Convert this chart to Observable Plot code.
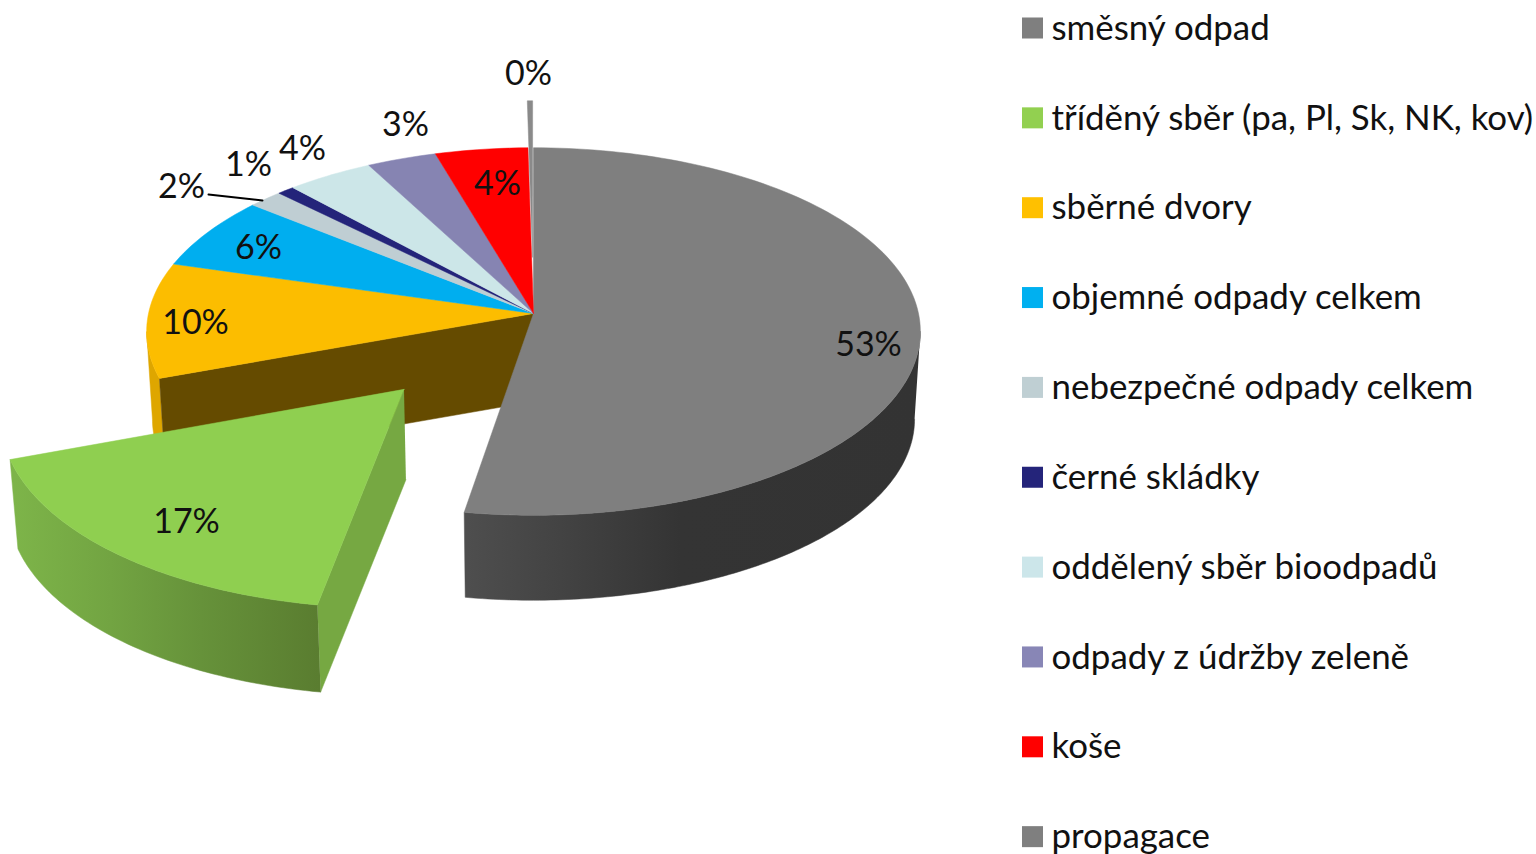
<!DOCTYPE html>
<html><head><meta charset="utf-8">
<style>html,body{margin:0;padding:0;background:#fff}</style>
<script src="https://cdn.jsdelivr.net/npm/d3@7"></script>
<script src="https://cdn.jsdelivr.net/npm/@observablehq/plot@0.6"></script>
</head><body><div id="chart"></div>
<script>
const categories = ["směsný odpad","tříděný sběr (pa, Pl, Sk, NK, kov)","sběrné dvory","objemné odpady celkem","nebezpečné odpady celkem","černé skládky","oddělený sběr bioodpadů","odpady z údržby zeleně","koše","propagace"];
const shares = [52.6,16.8,10.1,6.4,1.6,0.8,4,3.2,4.25,0.25];
const colors = ["#7f7f7f","#8fcf50","#fcbd00","#00aeef","#bfced3","#24247a","#cce6e8","#8684b2","#ff0000","#7f7f7f"];
const legendSwatch = ["#7f7f7f","#92d050","#ffc000","#00b0f0","#bfcfd3","#24247a","#cce6ea","#8886b6","#ff0000","#7f7f7f"];
const explode = [0,0.5,0,0,0,0,0,0,0,0.32];
const labelX = [868,186,195,258,181,248,302,405,497,528];
const labelY = [345,522,323,248,187,165,149,125,184,74];

// Perspective view of the pie
const cx=533, cy=313, R=385, S=182, k=0.098, shrink=0.985, D=88, exDx=-2, exDy=3, greenExtraDepth=3.5;
const proj=(u,v)=>({x:cx+R*u/(1+k*v), y:cy-S*v/(1+k*v)});
const under=(p,extra=0)=>({x:cx+(p.x-cx)*shrink, y:cy+(p.y-cy)*shrink+D+extra});
let acc=0;
const slices=shares.map((s,i)=>{const a0=acc/100*2*Math.PI; acc+=s; const a1=acc/100*2*Math.PI;
  const m=(a0+a1)/2, e=explode[i];
  return {i,a0,a1,ou:e*Math.sin(m),ov:e*Math.cos(m),dx:e===0.5?exDx:0,dy:e===0.5?exDy:0};});
const pt=(sl,a)=>{const p=proj(sl.ou+Math.sin(a),sl.ov+Math.cos(a));return {x:p.x+sl.dx,y:p.y+sl.dy}};
const apex=sl=>{const p=proj(sl.ou,sl.ov);return {x:p.x+sl.dx,y:p.y+sl.dy}};
const arc=(sl,a0,a1,n)=>d3.range(n+1).map(j=>pt(sl,a0+(a1-a0)*j/n));

const shape=(id,pts)=>pts.map(p=>({id,x:p.x,y:p.y}));
const wall=(sl,a0,a1,n,extra=0)=>{const t=arc(sl,a0,a1,n);return [...t,...t.slice().reverse().map(p=>under(p,extra))]};

// angles at which the rim of the pie turns back (its right and left silhouette)
const rimRight=Math.acos(-k), rimLeft=2*Math.PI-rimRight;

const yellow=slices[2], grey=slices[0], green=slices[1], sliver=slices[9];
const yellowWall=shape("yw",wall(yellow,yellow.a0,rimLeft,24));
const brownWall=shape("brown",[apex(yellow),pt(yellow,yellow.a0),under(pt(yellow,yellow.a0)),under(apex(yellow))]);
const greyWall=shape("gw",wall(grey,rimRight,grey.a1,120));
const tops=slices.filter(sl=>sl.i!==1&&sl.i!==9).flatMap(sl=>
  [apex(sl),...arc(sl,sl.a0,sl.a1,Math.max(4,Math.ceil((sl.a1-sl.a0)*40))),apex(sl)].map(p=>({id:"top"+sl.i,x:p.x,y:p.y,color:colors[sl.i]})));
const greenRadial=shape("gr",[apex(green),pt(green,green.a0),under(pt(green,green.a0),greenExtraDepth),under(apex(green),greenExtraDepth)]);
const greenOuter=shape("go",wall(green,green.a0,green.a1,60,greenExtraDepth));
const greenTop=shape("gt",[apex(green),...arc(green,green.a0,green.a1,60),apex(green)]);
const sliverTop=shape("sl",[apex(sliver),...arc(sliver,sliver.a0,sliver.a1,3),apex(sliver)]);

// horizontal shading of the curved walls
const gradient=(id,x1,x2,stops)=>{
  const g=d3.create("svg:linearGradient").attr("id",id).attr("gradientUnits","userSpaceOnUse")
    .attr("x1",x1).attr("x2",x2).attr("y1",0).attr("y2",0);
  stops.forEach(([x,c])=>g.append("stop").attr("offset",(x-x1)/(x2-x1)).attr("stop-color",c));
  return g.node();
};
const defs=()=>{const d=d3.create("svg:defs").node();
  d.appendChild(gradient("greyShade",466,921,[[466,"#4e4e4e"],[560,"#434343"],[680,"#343434"],[921,"#333333"]]));
  d.appendChild(gradient("greenShade",15,320,[[15,"#7db449"],[110,"#72a442"],[200,"#66923a"],[318,"#5a7d30"]]));
  return d;};

const labels=shares.map((s,i)=>({t:d3.format(".0f")(s)+"%",x:labelX[i],y:labelY[i]}));
const legendRow=i=>28+i*89.85;
const legend=categories.map((c,i)=>({c,i,y:legendRow(i),color:legendSwatch[i]}));
const leader=[{x:208,y:194},{x:262,y:200}];

const font="Lato, Carlito, sans-serif";
const poly=(data,fill)=>Plot.line(data,{x:"x",y:"y",z:"id",fill,stroke:fill,strokeWidth:0.5});
const chart=Plot.plot({
  width:1536,height:854,margin:0,
  x:{domain:[0,1536],range:[0,1536],axis:null},
  y:{domain:[0,854],range:[0,854],axis:null},
  color:{type:"identity"},
  style:{background:"#fff"},
  marks:[
    defs,
    poly(yellowWall,"#dea600"),
    poly(brownWall,"#654b00"),
    poly(greyWall,"url(#greyShade)"),
    Plot.line(tops,{x:"x",y:"y",z:"id",fill:"color",stroke:"color",strokeWidth:0.5}),
    poly(greenRadial,"#76a842"),
    poly(greenOuter,"url(#greenShade)"),
    poly(greenTop,colors[1]),
    poly(sliverTop,"#8a8a8a"),
    Plot.line(leader,{x:"x",y:"y",stroke:"#000",strokeWidth:2}),
    Plot.text(labels,{x:"x",y:"y",text:"t",fontSize:34,fontFamily:font,fill:"#111",textAnchor:"middle"}),
    Plot.rect(legend,{x1:()=>1022,x2:()=>1043,y1:d=>d.y-10.5,y2:d=>d.y+10.5,fill:"color"}),
    Plot.text(legend,{x:()=>1051,y:"y",text:"c",fontSize:34.9,fontFamily:font,fill:"#111",textAnchor:"start"})
  ]
});
document.getElementById("chart").appendChild(chart);
</script></body></html>
